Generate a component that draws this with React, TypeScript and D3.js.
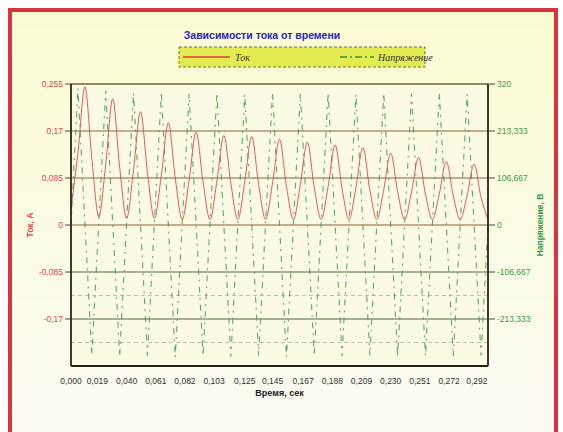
import React, { useEffect, useRef } from 'react'
import * as d3 from 'd3'

// time samples, sec
const times = [
  0, 0.005, 0.01, 0.015, 0.02, 0.025, 0.03, 0.035, 0.04, 0.045,
  0.05, 0.055, 0.06, 0.065, 0.07, 0.075, 0.08, 0.085, 0.09, 0.095,
  0.1, 0.105, 0.11, 0.115, 0.12, 0.125, 0.13, 0.135, 0.14, 0.145,
  0.15, 0.155, 0.16, 0.165, 0.17, 0.175, 0.18, 0.185, 0.19, 0.195,
  0.2, 0.205, 0.21, 0.215, 0.22, 0.225, 0.23, 0.235, 0.24, 0.245,
  0.25, 0.255, 0.26, 0.265, 0.27, 0.275, 0.28, 0.285, 0.29, 0.295,
  0.3,
]

// current, A
const current = [
  0.03, 0.13, 0.25, 0.12,
  0.015, 0.11, 0.228, 0.105,
  0.012, 0.1, 0.205, 0.095,
  0.012, 0.09, 0.185, 0.085,
  0.01, 0.082, 0.168, 0.078,
  0.01, 0.08, 0.162, 0.075,
  0.01, 0.078, 0.16, 0.073,
  0.01, 0.076, 0.155, 0.07,
  0.01, 0.073, 0.15, 0.068,
  0.01, 0.07, 0.145, 0.066,
  0.01, 0.068, 0.14, 0.063,
  0.01, 0.064, 0.13, 0.06,
  0.01, 0.06, 0.122, 0.056,
  0.01, 0.057, 0.115, 0.053,
  0.01, 0.054, 0.11, 0.05,
  0.01,
]

// voltage, V
const voltage = [
  0, 310, 5, -295,
  8, 305, 4, -298,
  6, 300, 2, -296,
  5, 302, 0, -300,
  4, 298, 3, -297,
  5, 300, 0, -299,
  3, 296, 2, -296,
  4, 301, 0, -300,
  2, 298, 1, -297,
  3, 300, 0, -298,
  2, 297, 1, -296,
  3, 299, 0, -299,
  2, 298, 1, -297,
  3, 300, 0, -298,
  2, 297, 1, -296,
  0,
]

const xTickValues = [0, 0.019, 0.04, 0.061, 0.082, 0.103, 0.125, 0.145, 0.167, 0.188, 0.209, 0.23, 0.251, 0.272, 0.292]
const xTickLabels = ['0,000', '0,019', '0,040', '0,061', '0,082', '0,103', '0,125', '0,145', '0,167', '0,188', '0,209', '0,230', '0,251', '0,272', '0,292']
const leftTicks = [-0.17, -0.085, 0, 0.085, 0.17, 0.255]
const leftTickLabels = ['-0,17', '-0,085', '0', '0,085', '0,17', '0,255']
const rightTicks = [-213.333, -106.667, 0, 106.667, 213.333, 320]
const rightTickLabels = ['-213,333', '-106,667', '0', '106,667', '213,333', '320']
const minorLevels = [-160, -266.667]

const App = () => {
  const ref = useRef<SVGSVGElement>(null)

  useEffect(() => {
    const svg = d3.select(ref.current)
    svg.selectAll('*').remove()

    const W = 563
    const H = 432
    const m = { left: 71, right: 488, top: 84, bottom: 366 }
    const font = 'Liberation Sans, Arial, sans-serif'

    const x = d3.scaleLinear().domain([0, 0.3]).range([m.left, m.right])
    const yL = d3.scaleLinear().domain([-0.255, 0.255]).range([m.bottom, m.top])
    const yR = d3.scaleLinear().domain([-320, 320]).range([m.bottom, m.top])

    // background frame
    const defs = svg.append('defs')
    const grad = defs.append('linearGradient').attr('id', 'bg').attr('x1', 0).attr('y1', 0).attr('x2', 0).attr('y2', 1)
    grad.append('stop').attr('offset', '0%').attr('stop-color', '#fbfbd2')
    grad.append('stop').attr('offset', '60%').attr('stop-color', '#fbfce6')
    grad.append('stop').attr('offset', '100%').attr('stop-color', '#fbfbf6')

    svg.append('rect').attr('width', W).attr('height', H).attr('fill', '#ffffff')
    svg.append('rect')
      .attr('x', 10).attr('y', 10).attr('width', 546).attr('height', 440)
      .attr('fill', 'url(#bg)')
      .attr('stroke', '#d8343c').attr('stroke-width', 4)

    // plot area
    svg.append('rect')
      .attr('x', m.left).attr('y', m.top)
      .attr('width', m.right - m.left).attr('height', m.bottom - m.top)
      .attr('fill', '#fafbe2')

    // gridlines
    svg.append('g').selectAll('line').data(leftTicks).join('line')
      .attr('x1', m.left).attr('x2', m.right)
      .attr('y1', d => yL(d)).attr('y2', d => yL(d))
      .attr('stroke', (d, i) => (i < 2 ? '#4f6a3a' : '#85633a'))
      .attr('stroke-width', 1.2)

    svg.append('g').selectAll('line').data(minorLevels).join('line')
      .attr('x1', m.left).attr('x2', m.right)
      .attr('y1', d => yR(d)).attr('y2', d => yR(d))
      .attr('stroke', '#9a9a90').attr('stroke-width', 1)
      .attr('stroke-dasharray', '4,3').attr('opacity', 0.6)

    // series
    const pts = times.map((t, i) => ({ t, c: current[i], v: voltage[i] }))

    const vLine = d3.line<any>().x(d => x(d.t)).y(d => yR(d.v))
    svg.append('path').datum(pts)
      .attr('d', vLine)
      .attr('fill', 'none')
      .attr('stroke', '#3da04c')
      .attr('stroke-width', 1.1)
      .attr('stroke-dasharray', '6,5,2,5')
      .attr('opacity', 0.85)

    const cLine = d3.line<any>().curve(d3.curveMonotoneX).x(d => x(d.t)).y(d => yL(d.c))
    svg.append('path').datum(pts)
      .attr('d', cLine)
      .attr('fill', 'none')
      .attr('stroke', '#e8464a')
      .attr('stroke-width', 1)
      .attr('opacity', 0.9)

    // axes lines
    svg.append('line').attr('x1', m.left).attr('x2', m.right).attr('y1', m.top).attr('y2', m.top)
      .attr('stroke', '#5a6e30').attr('stroke-width', 1.2)
    svg.append('line').attr('x1', m.left).attr('x2', m.left).attr('y1', m.top).attr('y2', m.bottom)
      .attr('stroke', '#2a2418').attr('stroke-width', 1.8)
    svg.append('line').attr('x1', m.right).attr('x2', m.right).attr('y1', m.top).attr('y2', m.bottom)
      .attr('stroke', '#2a2418').attr('stroke-width', 1.8)
    svg.append('line').attr('x1', m.left).attr('x2', m.right).attr('y1', m.bottom).attr('y2', m.bottom)
      .attr('stroke', '#2a2418').attr('stroke-width', 1.8)

    // left axis
    const gl = svg.append('g')
    gl.selectAll('line').data(leftTicks).join('line')
      .attr('x1', m.left - 6).attr('x2', m.left)
      .attr('y1', d => yL(d)).attr('y2', d => yL(d))
      .attr('stroke', '#444').attr('stroke-width', 1)
    gl.selectAll('text').data(leftTicks).join('text')
      .attr('x', m.left - 8).attr('y', d => yL(d) + 3)
      .attr('text-anchor', 'end')
      .attr('font-family', font).attr('font-size', 8.5)
      .attr('fill', '#e0474c')
      .text((d, i) => leftTickLabels[i])

    // right axis
    const gr = svg.append('g')
    gr.selectAll('line').data(rightTicks).join('line')
      .attr('x1', m.right).attr('x2', m.right + 7)
      .attr('y1', d => yR(d)).attr('y2', d => yR(d))
      .attr('stroke', '#444').attr('stroke-width', 1)
    gr.selectAll('text').data(rightTicks).join('text')
      .attr('x', m.right + 9).attr('y', d => yR(d) + 3)
      .attr('font-family', font).attr('font-size', 8.5)
      .attr('fill', '#3d9a4a')
      .text((d, i) => rightTickLabels[i])

    // x axis labels
    svg.append('g').selectAll('text').data(xTickValues).join('text')
      .attr('x', d => x(d)).attr('y', 384)
      .attr('text-anchor', 'middle')
      .attr('font-family', font).attr('font-size', 8.5)
      .attr('fill', '#333')
      .text((d, i) => xTickLabels[i])

    // titles
    svg.append('text')
      .attr('x', 262).attr('y', 39)
      .attr('text-anchor', 'middle')
      .attr('font-family', font).attr('font-size', 10.5).attr('font-weight', 'bold')
      .attr('fill', '#2626c8')
      .text('Зависимости  тока от времени')

    svg.append('text')
      .attr('x', (m.left + m.right) / 2).attr('y', 396)
      .attr('text-anchor', 'middle')
      .attr('font-family', font).attr('font-size', 9).attr('font-weight', 'bold')
      .attr('fill', '#222')
      .text('Время, сек')

    svg.append('text')
      .attr('transform', `translate(33,${(m.top + m.bottom) / 2}) rotate(-90)`)
      .attr('text-anchor', 'middle')
      .attr('font-family', font).attr('font-size', 8.5).attr('font-weight', 'bold')
      .attr('fill', '#e0474c')
      .text('Ток, А')

    svg.append('text')
      .attr('transform', `translate(543,${(m.top + m.bottom) / 2}) rotate(-90)`)
      .attr('text-anchor', 'middle')
      .attr('font-family', font).attr('font-size', 8.5).attr('font-weight', 'bold')
      .attr('fill', '#2f9a40')
      .text('Напряжение, В')

    // legend
    const lg = svg.append('g')
    lg.append('rect')
      .attr('x', 179).attr('y', 47).attr('width', 246).attr('height', 20)
      .attr('fill', '#e2ec50')
      .attr('stroke', '#6e6e3c').attr('stroke-width', 1)
      .attr('stroke-dasharray', '3,2')
    lg.append('line').attr('x1', 183).attr('x2', 230).attr('y1', 57).attr('y2', 57)
      .attr('stroke', '#e4383c').attr('stroke-width', 1.3)
    lg.append('text').attr('x', 235).attr('y', 61)
      .attr('font-family', 'Liberation Serif, serif').attr('font-style', 'italic').attr('font-size', 10)
      .attr('fill', '#333').text('Ток')
    lg.append('line').attr('x1', 340).attr('x2', 374).attr('y1', 57).attr('y2', 57)
      .attr('stroke', '#2f9a40').attr('stroke-width', 1.3)
      .attr('stroke-dasharray', '7,3,2,3')
    lg.append('text').attr('x', 378).attr('y', 61)
      .attr('font-family', 'Liberation Serif, serif').attr('font-style', 'italic').attr('font-size', 10)
      .attr('fill', '#333').text('Напряжение')
  }, [])

  return (
    <svg ref={ref} width={563} height={432} style={{ position: 'absolute', left: 0, top: 0 }} />
  )
}

export default App
